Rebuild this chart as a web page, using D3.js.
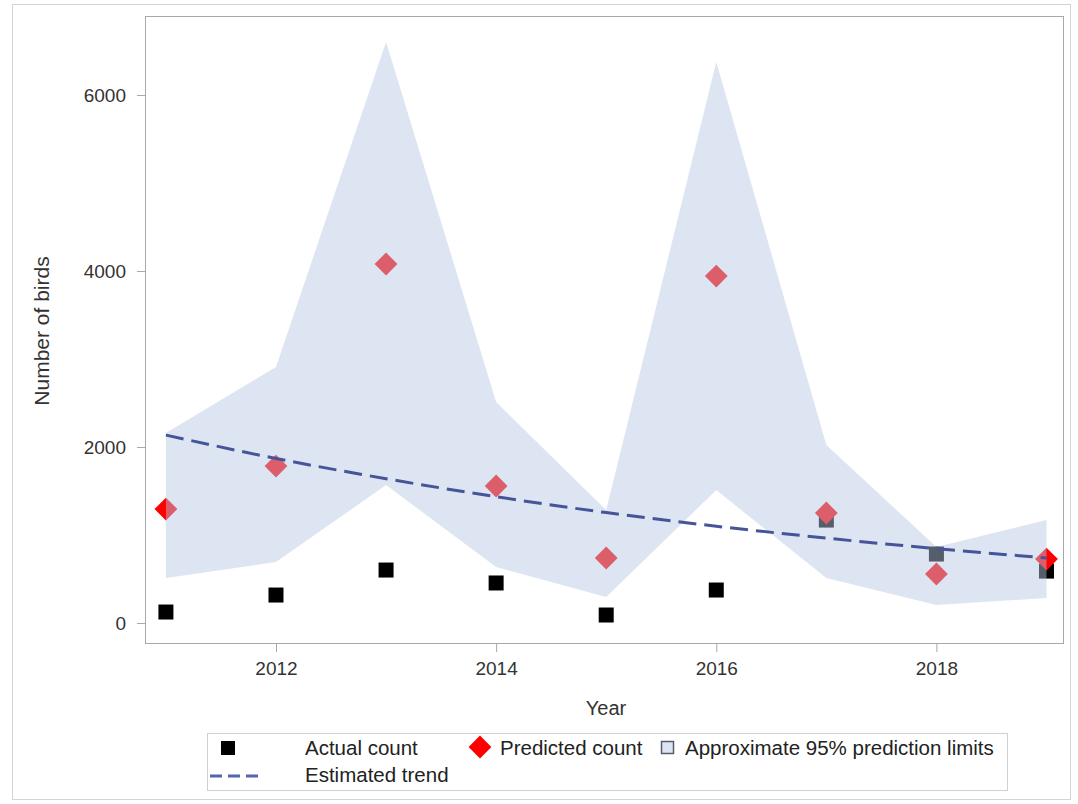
<!DOCTYPE html>
<meta charset="utf-8" />
<script src="https://d3js.org/d3.v7.min.js"></script>
<body style="margin: 0; background: #ffffff">
  <div id="chart"></div>
  <script>
    // data
    var years = [2011, 2012, 2013, 2014, 2015, 2016, 2017, 2018, 2019];
    var actual = [125, 318, 602, 455, 91, 375, 1170, 784, 590];
    var predicted = [1295, 1784, 4080, 1557, 739, 3943, 1250, 557, 727];
    var lower = [511, 693, 1568, 636, 295, 1511, 511, 205, 284];
    var upper = [2159, 2909, 6602, 2511, 1284, 6375, 2023, 864, 1170];
    var trend = [2136, 1870, 1640, 1435, 1255, 1100, 965, 845, 740];
    var yTicks = [0, 2000, 4000, 6000];
    var xTicks = [2012, 2014, 2016, 2018];

    var W = 1078, H = 804;
    var pLeft = 145, pRight = 1063, pTop = 16, pBottom = 643;
    var font = "'Liberation Sans', Arial, sans-serif";

    var svg = d3
      .select("#chart")
      .append("svg")
      .attr("width", W)
      .attr("height", H)
      .style("display", "block");

    // outer frame
    svg
      .append("rect")
      .attr("x", 12.5)
      .attr("y", 4.5)
      .attr("width", 1058)
      .attr("height", 795)
      .attr("fill", "none")
      .attr("stroke", "#d4d4d4");

    var x = d3.scaleLinear().domain([2010.81, 2019.15]).range([pLeft, pRight]);
    var y = d3.scaleLinear().domain([-227, 6898]).range([pBottom, pTop]);

    var rows = years.map(function (yr, i) {
      return {
        year: yr,
        actual: actual[i],
        predicted: predicted[i],
        lower: lower[i],
        upper: upper[i],
        trend: trend[i]
      };
    });

    // axes
    var yAxis = svg
      .append("g")
      .attr("transform", "translate(" + pLeft + ",0)")
      .call(d3.axisLeft(y).tickValues(yTicks).tickSize(8).tickPadding(11).tickFormat(d3.format("d")));
    var xAxis = svg
      .append("g")
      .attr("transform", "translate(0," + pBottom + ")")
      .call(d3.axisBottom(x).tickValues(xTicks).tickSize(9).tickPadding(10).tickFormat(d3.format("d")));
    [yAxis, xAxis].forEach(function (g) {
      g.select(".domain").remove();
      g.selectAll(".tick line").attr("stroke", "#a8a8a8");
      g.selectAll(".tick text")
        .attr("fill", "#333")
        .style("font-family", font)
        .style("font-size", "19px");
    });

    // markers
    svg
      .append("g")
      .selectAll("rect")
      .data(rows)
      .enter()
      .append("rect")
      .attr("x", function (d) { return x(d.year) - 7.5; })
      .attr("y", function (d) { return y(d.actual) - 7.5; })
      .attr("width", 15)
      .attr("height", 15)
      .attr("fill", "#000");

    var diamond = d3.symbol().type(d3.symbolSquare).size(260);
    svg
      .append("g")
      .selectAll("path")
      .data(rows)
      .enter()
      .append("path")
      .attr("d", diamond)
      .attr("transform", function (d) {
        return "translate(" + x(d.year) + "," + y(d.predicted) + ") rotate(45)";
      })
      .attr("fill", "#ff0000");

    // prediction band on top of the markers
    var area = d3
      .area()
      .x(function (d) { return x(d.year); })
      .y0(function (d) { return y(d.lower); })
      .y1(function (d) { return y(d.upper); });
    svg
      .append("path")
      .datum(rows)
      .attr("d", area)
      .attr("fill", "rgb(181,200,225)")
      .attr("fill-opacity", 0.47);

    // trend
    var line = d3
      .line()
      .x(function (d) { return x(d.year); })
      .y(function (d) { return y(d.trend); })
      .curve(d3.curveMonotoneX);
    svg
      .append("path")
      .datum(rows)
      .attr("d", line)
      .attr("fill", "none")
      .attr("stroke", "#46549a")
      .attr("stroke-width", 3)
      .attr("stroke-dasharray", "18,8");

    // plot frame
    svg
      .append("rect")
      .attr("x", pLeft + 0.5)
      .attr("y", pTop + 0.5)
      .attr("width", pRight - pLeft)
      .attr("height", pBottom - pTop)
      .attr("fill", "none")
      .attr("stroke", "#a8a8a8");

    // titles
    svg
      .append("text")
      .attr("x", (pLeft + pRight) / 2 + 2)
      .attr("y", 715)
      .attr("text-anchor", "middle")
      .style("font-family", font)
      .style("font-size", "20px")
      .attr("fill", "#333")
      .text("Year");
    svg
      .append("text")
      .attr("transform", "translate(49," + 331 + ") rotate(-90)")
      .attr("text-anchor", "middle")
      .style("font-family", font)
      .style("font-size", "21px")
      .attr("fill", "#333")
      .text("Number of birds");

    // legend
    var lg = svg.append("g");
    lg.append("rect")
      .attr("x", 207.5)
      .attr("y", 733.5)
      .attr("width", 800)
      .attr("height", 57)
      .attr("fill", "#fff")
      .attr("stroke", "#d0d0d0");
    lg.append("rect")
      .attr("x", 221)
      .attr("y", 741)
      .attr("width", 14)
      .attr("height", 14)
      .attr("fill", "#000");
    lg.append("path")
      .attr("d", d3.symbol().type(d3.symbolSquare).size(260))
      .attr("transform", "translate(480,747) rotate(45)")
      .attr("fill", "#ff0000");
    lg.append("rect")
      .attr("x", 661.5)
      .attr("y", 741.5)
      .attr("width", 12)
      .attr("height", 12)
      .attr("fill", "rgb(220,229,242)")
      .attr("stroke", "#555e6a")
      .attr("stroke-width", 1.5);
    lg.append("line")
      .attr("x1", 210)
      .attr("x2", 260)
      .attr("y1", 776)
      .attr("y2", 776)
      .attr("stroke", "#5565aa")
      .attr("stroke-width", 3)
      .attr("stroke-dasharray", "12,6");
    var items = [
      ["Actual count", 305, 755],
      ["Predicted count", 500, 755],
      ["Approximate 95% prediction limits", 685, 755],
      ["Estimated trend", 305, 782]
    ];
    items.forEach(function (it) {
      lg.append("text")
        .attr("x", it[1])
        .attr("y", it[2])
        .style("font-family", font)
        .style("font-size", "20.5px")
        .attr("fill", "#222")
        .text(it[0]);
    });
  </script>
</body>
